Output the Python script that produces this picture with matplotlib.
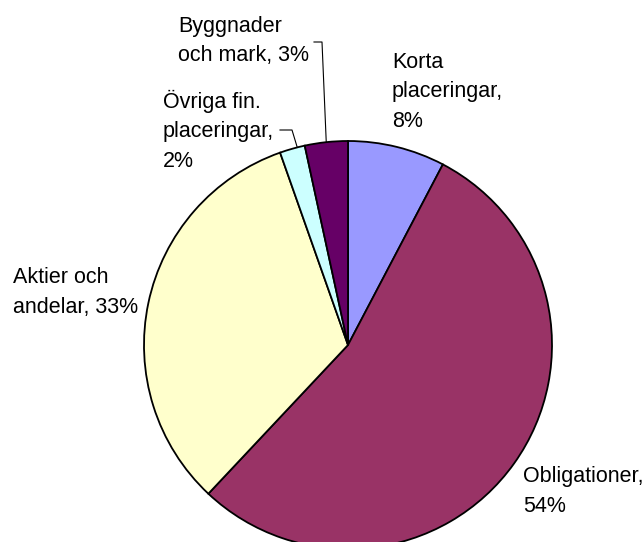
import matplotlib
matplotlib.use("Agg")
import matplotlib.pyplot as plt
import numpy as np

# Andelar av placeringstillgångar (procent)
categories = ["Korta placeringar", "Obligationer", "Aktier och andelar",
              "Övriga fin. placeringar", "Byggnader och mark"]
values = [7.7, 54.3, 32.6, 2.0, 3.4]
colors = ["#9999FF", "#993366", "#FFFFCC", "#CCFFFF", "#660066"]

# label text split into rows as in the original
label_rows = [
    ["Korta", "placeringar,", "{p}%"],
    ["Obligationer,", "{p}%"],
    ["Aktier och", "andelar, {p}%"],
    ["Övriga fin.", "placeringar,", "{p}%"],
    ["Byggnader", "och mark, {p}%"],
]

W, H = 643, 542
fig = plt.figure(figsize=(W / 100, H / 100), dpi=100)
ax = fig.add_axes([0, 0, 1, 1])

cx, cy, r = 348, H - 345, 204
wedges, _ = ax.pie(values, colors=colors, startangle=90, counterclock=False,
                   center=(cx, cy), radius=r,
                   wedgeprops=dict(edgecolor="black", linewidth=1.3))
ax.set_xlim(0, W)
ax.set_ylim(0, H)
ax.set_aspect("equal")
ax.axis("off")

# label layout: left x and baseline of first row (pixels from top)
label_pos = [(392, 68), (523, 482), (13, 283), (163, 108), (178, 32)]
step = 29.5
font = dict(family=["Liberation Sans", "DejaVu Sans"], fontsize=15.5, color="black")

for rows, val, (lx, ly) in zip(label_rows, values, label_pos):
    for i, row in enumerate(rows):
        ax.text(lx, H - (ly + i * step), row.format(p="%.0f" % val),
                ha="left", va="baseline", **font)

# leader lines for the two small slices
def edge_point(w, frac=0.5):
    a = np.deg2rad(w.theta1 + (w.theta2 - w.theta1) * frac)
    return cx + r * np.cos(a), cy + r * np.sin(a)

ex, ey = edge_point(wedges[4])
ax.plot([314, 322, ex], [H - 42, H - 42, ey], color="black", lw=0.8)
ex, ey = edge_point(wedges[3], 0.3)
ax.plot([280, 292, ex], [H - 130, H - 130, ey], color="black", lw=0.8)

fig.savefig("out.png", dpi=100)
